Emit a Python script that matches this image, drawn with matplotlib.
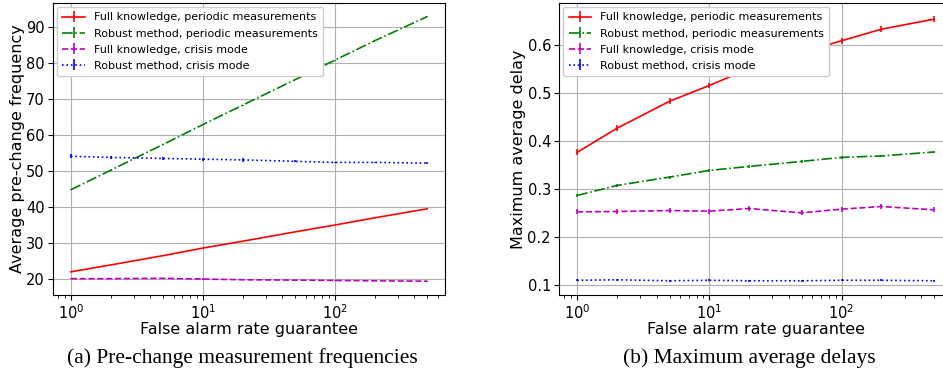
import matplotlib
matplotlib.use("Agg")
import matplotlib.pyplot as plt
import numpy as np

x = [1, 2, 5, 10, 20, 50, 100, 200, 500]

labels = ["Full knowledge, periodic measurements",
          "Robust method, periodic measurements",
          "Full knowledge, crisis mode",
          "Robust method, crisis mode"]

# Panel (a): average pre-change frequency
freq_full_periodic = [22.1, 24.0, 26.6, 28.7, 30.6, 33.2, 35.1, 37.1, 39.6]
freq_robust_periodic = [44.9, 50.3, 57.5, 63.0, 68.4, 75.5, 80.9, 86.3, 93.0]
freq_full_crisis = [20.2, 20.2, 20.3, 20.1, 19.9, 19.8, 19.7, 19.6, 19.5]
freq_robust_crisis = [54.2, 53.9, 53.6, 53.4, 53.2, 52.8, 52.5, 52.5, 52.3]
freq_err_full_periodic = [0.1] * 9
freq_err_robust_periodic = [0.1] * 9
freq_err_full_crisis = [0.15] * 9
freq_err_robust_crisis = [0.6, 0.5, 0.45, 0.45, 0.5, 0.3, 0.2, 0.2, 0.2]

# Panel (b): maximum average delay
delay_full_periodic = [0.3765, 0.4266, 0.483, 0.5158, 0.551, 0.585, 0.609, 0.633, 0.654]
delay_robust_periodic = [0.2867, 0.3075, 0.325, 0.3389, 0.3472, 0.3577, 0.366, 0.369, 0.3773]
delay_full_crisis = [0.2526, 0.2533, 0.2553, 0.254, 0.2595, 0.2505, 0.2582, 0.2637, 0.2568]
delay_robust_crisis = [0.110, 0.111, 0.109, 0.110, 0.109, 0.109, 0.110, 0.110, 0.109]
delay_err_full_periodic = [0.006] * 9
delay_err_robust_periodic = [0.003] * 9
delay_err_full_crisis = [0.005] * 9
delay_err_robust_crisis = [0.002] * 9

styles = [dict(color="red", linestyle="-"),
          dict(color="green", linestyle="-."),
          dict(color="m", linestyle="--"),
          dict(color="blue", linestyle=":")]

W, H = 943, 373
fig = plt.figure(figsize=(W / 100, H / 100), dpi=100)

def px_axes(l, r, t, b):
    return fig.add_axes([l / W, 1 - b / H, (r - l) / W, (b - t) / H])

axA = px_axes(53, 445, 3, 295)
axB = px_axes(559.3, 951.8, 3, 295)

seriesA = [(freq_full_periodic, freq_err_full_periodic),
           (freq_robust_periodic, freq_err_robust_periodic),
           (freq_full_crisis, freq_err_full_crisis),
           (freq_robust_crisis, freq_err_robust_crisis)]
seriesB = [(delay_full_periodic, delay_err_full_periodic),
           (delay_robust_periodic, delay_err_robust_periodic),
           (delay_full_crisis, delay_err_full_crisis),
           (delay_robust_crisis, delay_err_robust_crisis)]

for ax, series, ylabel in [(axA, seriesA, "Average pre-change frequency"),
                           (axB, seriesB, "Maximum average delay")]:
    for (y, e), st, lab in zip(series, styles, labels):
        ax.errorbar(x, y, yerr=e, label=lab, linewidth=1.2, elinewidth=1.2, **st)
    ax.set_xscale("log")
    ax.grid(True, color="#b0b0b0", linewidth=0.8)
    ax.set_axisbelow(True)
    ax.tick_params(labelsize=10.5, pad=2.5)
    ax.set_xlabel("False alarm rate guarantee", fontsize=11.5, labelpad=0)
    ax.set_ylabel(ylabel, fontsize=11.5, labelpad=1)
    ax.legend(loc="upper left", fontsize=8, handlelength=2.0, borderaxespad=0.35,
              labelspacing=0.55, framealpha=1.0, borderpad=0.5)

axA.set_yticks([20, 30, 40, 50, 60, 70, 80, 90])
axB.set_yticks([0.1, 0.2, 0.3, 0.4, 0.5, 0.6])

fig.text(242 / W, 1 - 358 / H, "(a) Pre-change measurement frequencies",
         ha="center", va="center", fontsize=15.5, family="Liberation Serif")
fig.text(749.5 / W, 1 - 358 / H, "(b) Maximum average delays",
         ha="center", va="center", fontsize=15.5, family="Liberation Serif")

fig.savefig("out.png", dpi=100)
